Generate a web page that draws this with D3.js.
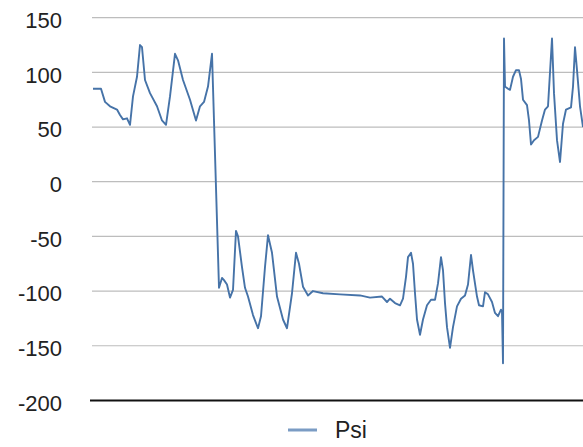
<!DOCTYPE html>
<html>
<head>
<meta charset="utf-8">
<script src="https://cdn.jsdelivr.net/npm/d3@7"></script>
<style>
    body { margin: 0; background: #fff; }
    svg { display: block; }
</style>
</head>
<body>
<div id="chart"></div>
<script>
// frame number (sample index) and Psi angle
const frames = [0, 8, 12, 17, 24, 27, 30, 34, 37, 40, 44, 47, 49, 52, 57, 64, 69, 73, 77, 82, 85, 90, 97,
    103, 107, 111, 115, 119, 126, 129, 131, 134, 137, 140, 143, 145, 149, 152, 155, 160, 165, 168, 172,
    175, 179, 184, 190, 194, 199, 203, 206, 210, 215, 220, 230, 247, 267, 277, 289, 294, 297, 302, 307,
    310, 313, 315, 318, 320, 322, 324, 327, 330, 334, 338, 342, 345, 348, 350, 352, 354, 357, 360, 364,
    368, 372, 375, 378, 380, 384, 386, 390, 392, 395, 399, 402, 405, 408, 409, 410, 411, 412, 415, 417,
    420, 423, 426, 428, 430, 434, 436, 438, 441, 445, 449, 452, 455, 459, 461, 464, 467, 470, 473, 478,
    480, 482, 484, 487, 490];
const psi = [85, 85, 73, 69, 66, 61, 57, 58, 52, 78, 96, 125, 123, 93, 81, 69, 56, 52, 78, 117, 111, 93, 75,
    56, 69, 73, 87, 117, -97, -88, -90, -94, -106, -99, -45, -50, -78, -97, -105, -122, -134, -123, -78,
    -49, -65, -105, -126, -134, -102, -65, -75, -96, -104, -100, -102, -103, -104, -106, -105, -110, -107, -111, -113,
    -107, -87, -69, -65, -75, -102, -126, -140, -126, -113, -108, -108, -93, -69, -81, -111, -133, -152, -133, -114,
    -107, -104, -94, -67, -81, -105, -113, -114, -101, -103, -110, -120, -123, -117, -119, -166, 131, 87, 85, 84,
    96, 102, 102, 94, 75, 70, 56, 34, 38, 41, 56, 66, 69, 131, 81, 38, 18, 53, 66, 68,
    87, 123, 102, 69, 50];
const yTicks = [-200, -150, -100, -50, 0, 50, 100, 150];
const seriesName = 'Psi';

const width = 583;
const height = 447;

const data = frames.map((f, i) => ({ frame: f, value: psi[i] }));

const svg = d3.select('#chart').append('svg')
    .attr('width', width)
    .attr('height', height);

const x = d3.scaleLinear()
    .domain([0, 490])
    .range([93, 583]);

const y = d3.scaleLinear()
    .domain([-200, 150])
    .range([400.4, 17.7]);

// horizontal grid lines
svg.append('g')
    .selectAll('line')
    .data(yTicks.filter(d => d !== -200))
    .enter()
    .append('line')
    .attr('x1', 92)
    .attr('x2', width)
    .attr('y1', d => y(d))
    .attr('y2', d => y(d))
    .attr('stroke', '#bdbdbd')
    .attr('stroke-width', 1.2);

// base line at the bottom
svg.append('line')
    .attr('x1', 90)
    .attr('x2', width)
    .attr('y1', y(-200))
    .attr('y2', y(-200))
    .attr('stroke', '#111')
    .attr('stroke-width', 2);

// y axis labels (plain hyphen for negatives, like the original)
const yAxis = d3.axisLeft(y)
    .tickValues(yTicks)
    .tickFormat(d => String(d))
    .tickSize(0)
    .tickPadding(0);

const yAxisG = svg.append('g')
    .attr('transform', 'translate(62,0)')
    .call(yAxis);

yAxisG.select('.domain').remove();
yAxisG.selectAll('text')
    .attr('dy', '0.45em')
    .style('font-family', '"Liberation Sans", Arial, sans-serif')
    .style('font-size', '22px')
    .style('fill', '#222');

// the Psi line
const line = d3.line()
    .x(d => x(d.frame))
    .y(d => y(d.value));

svg.append('path')
    .datum(data)
    .attr('fill', 'none')
    .attr('stroke', '#4673a8')
    .attr('stroke-width', 1.9)
    .attr('stroke-linejoin', 'round')
    .attr('d', line);

// legend
const legend = svg.append('g')
    .attr('transform', 'translate(288,430)');

legend.append('line')
    .attr('x1', 0)
    .attr('x2', 29)
    .attr('y1', 0)
    .attr('y2', 0)
    .attr('stroke', '#7b9cc4')
    .attr('stroke-width', 3);

legend.append('text')
    .attr('x', 47)
    .attr('y', 8)
    .style('font-family', '"Liberation Sans", Arial, sans-serif')
    .style('font-size', '23px')
    .style('fill', '#222')
    .text(seriesName);
</script>
</body>
</html>
